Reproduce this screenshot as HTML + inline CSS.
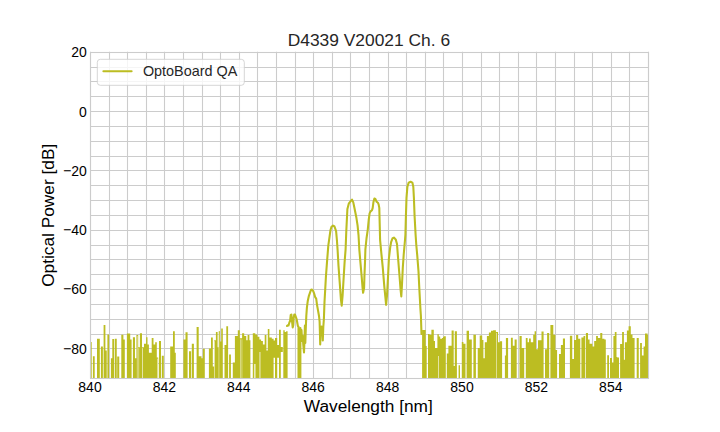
<!DOCTYPE html>
<html><head><meta charset="utf-8"><style>
html,body{margin:0;padding:0;background:#fff;width:720px;height:432px;overflow:hidden}
svg{display:block;font-family:"Liberation Sans",sans-serif}
</style></head><body>
<svg width="720" height="432" viewBox="0 0 720 432">
<rect width="720" height="432" fill="#fff"/>
<g stroke="#cccccc" stroke-width="1.1" shape-rendering="auto"><line x1="90.50" y1="51.84" x2="90.50" y2="378.00"/><line x1="109.50" y1="51.84" x2="109.50" y2="378.00"/><line x1="127.50" y1="51.84" x2="127.50" y2="378.00"/><line x1="146.50" y1="51.84" x2="146.50" y2="378.00"/><line x1="164.50" y1="51.84" x2="164.50" y2="378.00"/><line x1="183.50" y1="51.84" x2="183.50" y2="378.00"/><line x1="202.50" y1="51.84" x2="202.50" y2="378.00"/><line x1="220.50" y1="51.84" x2="220.50" y2="378.00"/><line x1="239.50" y1="51.84" x2="239.50" y2="378.00"/><line x1="257.50" y1="51.84" x2="257.50" y2="378.00"/><line x1="276.50" y1="51.84" x2="276.50" y2="378.00"/><line x1="295.50" y1="51.84" x2="295.50" y2="378.00"/><line x1="313.50" y1="51.84" x2="313.50" y2="378.00"/><line x1="332.50" y1="51.84" x2="332.50" y2="378.00"/><line x1="350.50" y1="51.84" x2="350.50" y2="378.00"/><line x1="369.50" y1="51.84" x2="369.50" y2="378.00"/><line x1="388.50" y1="51.84" x2="388.50" y2="378.00"/><line x1="406.50" y1="51.84" x2="406.50" y2="378.00"/><line x1="425.50" y1="51.84" x2="425.50" y2="378.00"/><line x1="443.50" y1="51.84" x2="443.50" y2="378.00"/><line x1="462.50" y1="51.84" x2="462.50" y2="378.00"/><line x1="481.50" y1="51.84" x2="481.50" y2="378.00"/><line x1="499.50" y1="51.84" x2="499.50" y2="378.00"/><line x1="518.50" y1="51.84" x2="518.50" y2="378.00"/><line x1="536.50" y1="51.84" x2="536.50" y2="378.00"/><line x1="555.50" y1="51.84" x2="555.50" y2="378.00"/><line x1="574.50" y1="51.84" x2="574.50" y2="378.00"/><line x1="592.50" y1="51.84" x2="592.50" y2="378.00"/><line x1="611.50" y1="51.84" x2="611.50" y2="378.00"/><line x1="629.50" y1="51.84" x2="629.50" y2="378.00"/><line x1="648.50" y1="51.84" x2="648.50" y2="378.00"/><line x1="90.00" y1="52.50" x2="648.00" y2="52.50"/><line x1="90.00" y1="67.50" x2="648.00" y2="67.50"/><line x1="90.00" y1="81.50" x2="648.00" y2="81.50"/><line x1="90.00" y1="96.50" x2="648.00" y2="96.50"/><line x1="90.00" y1="111.50" x2="648.00" y2="111.50"/><line x1="90.00" y1="126.50" x2="648.00" y2="126.50"/><line x1="90.00" y1="141.50" x2="648.00" y2="141.50"/><line x1="90.00" y1="156.50" x2="648.00" y2="156.50"/><line x1="90.00" y1="170.50" x2="648.00" y2="170.50"/><line x1="90.00" y1="185.50" x2="648.00" y2="185.50"/><line x1="90.00" y1="200.50" x2="648.00" y2="200.50"/><line x1="90.00" y1="215.50" x2="648.00" y2="215.50"/><line x1="90.00" y1="230.50" x2="648.00" y2="230.50"/><line x1="90.00" y1="245.50" x2="648.00" y2="245.50"/><line x1="90.00" y1="259.50" x2="648.00" y2="259.50"/><line x1="90.00" y1="274.50" x2="648.00" y2="274.50"/><line x1="90.00" y1="289.50" x2="648.00" y2="289.50"/><line x1="90.00" y1="304.50" x2="648.00" y2="304.50"/><line x1="90.00" y1="319.50" x2="648.00" y2="319.50"/><line x1="90.00" y1="334.50" x2="648.00" y2="334.50"/><line x1="90.00" y1="348.50" x2="648.00" y2="348.50"/><line x1="90.00" y1="363.50" x2="648.00" y2="363.50"/><line x1="90.00" y1="378.50" x2="648.00" y2="378.50"/></g>
<defs><clipPath id="c"><rect x="90.0" y="51.84" width="558.0" height="326.15999999999997"/></clipPath></defs>
<g clip-path="url(#c)"><path d="M90.90 380.00 L90.90 342.00 L91.70 342.00 L91.70 380.00 Z M92.90 380.00 L92.90 356.20 L94.70 356.20 L94.70 380.00 Z M97.00 380.00 L97.00 338.80 L99.80 338.80 L99.80 380.00 Z M100.90 380.00 L100.90 346.50 L102.90 346.50 L102.90 380.00 Z M103.60 380.00 L103.60 325.00 L105.40 325.00 L105.40 380.00 Z M105.40 380.00 L105.40 350.60 L106.75 350.60 L106.75 380.00 Z M107.40 380.00 L107.40 334.40 L109.10 334.40 L109.10 380.00 Z M110.90 380.00 L110.90 358.30 L112.30 358.30 L112.30 380.00 Z M112.30 380.00 L112.30 339.10 L114.10 339.10 L114.10 380.00 Z M114.80 380.00 L114.80 338.80 L116.75 338.80 L116.75 380.00 Z M117.20 380.00 L117.20 356.60 L119.25 356.60 L119.25 380.00 Z M121.30 380.00 L121.30 334.70 L123.40 334.70 L123.40 380.00 Z M123.40 380.00 L123.40 339.50 L124.80 339.50 L124.80 380.00 Z M126.90 380.00 L126.90 333.60 L130.20 333.60 L130.20 380.00 Z M130.20 380.00 L130.20 339.50 L131.60 339.50 L131.60 380.00 Z M132.90 380.00 L132.90 337.20 L135.00 337.20 L135.00 380.00 Z M135.00 380.00 L135.00 358.30 L136.40 358.30 L136.40 380.00 Z M136.40 380.00 L136.40 335.00 L138.20 335.00 L138.20 380.00 Z M138.20 380.00 L138.20 347.20 L139.90 347.20 L139.90 380.00 Z M139.90 380.00 L139.90 333.30 L142.00 333.30 L142.00 380.00 Z M142.00 380.00 L142.00 347.20 L144.00 347.20 L144.00 380.00 Z M144.00 380.00 L144.00 343.70 L146.10 343.70 L146.10 380.00 Z M146.10 380.00 L146.10 337.20 L147.50 337.20 L147.50 380.00 Z M147.50 380.00 L147.50 344.40 L148.90 344.40 L148.90 380.00 Z M148.90 380.00 L148.90 352.70 L151.70 352.70 L151.70 380.00 Z M151.70 380.00 L151.70 338.10 L153.50 338.10 L153.50 380.00 Z M153.50 380.00 L153.50 344.40 L155.20 344.40 L155.20 380.00 Z M155.20 380.00 L155.20 342.30 L156.80 342.30 L156.80 380.00 Z M156.80 380.00 L156.80 357.60 L158.20 357.60 L158.20 380.00 Z M159.00 380.00 L159.00 340.90 L161.00 340.90 L161.00 380.00 Z M161.80 380.00 L161.80 355.80 L163.80 355.80 L163.80 380.00 Z M170.20 380.00 L170.20 346.50 L173.00 346.50 L173.00 380.00 Z M173.00 380.00 L173.00 331.20 L174.80 331.20 L174.80 380.00 Z M174.80 380.00 L174.80 352.70 L175.80 352.70 L175.80 380.00 Z M183.40 380.00 L183.40 339.50 L185.50 339.50 L185.50 380.00 Z M185.50 380.00 L185.50 332.30 L187.60 332.30 L187.60 380.00 Z M189.00 380.00 L189.00 351.30 L191.10 351.30 L191.10 380.00 Z M191.80 380.00 L191.80 343.70 L193.90 343.70 L193.90 380.00 Z M196.60 380.00 L196.60 327.00 L198.70 327.00 L198.70 380.00 Z M198.70 380.00 L198.70 356.20 L201.50 356.20 L201.50 380.00 Z M201.50 380.00 L201.50 358.30 L202.90 358.30 L202.90 380.00 Z M202.90 380.00 L202.90 348.70 L204.80 348.70 L204.80 380.00 Z M208.90 380.00 L208.90 348.60 L211.00 348.60 L211.00 380.00 Z M211.00 380.00 L211.00 337.40 L212.80 337.40 L212.80 380.00 Z M212.80 380.00 L212.80 366.60 L214.20 366.60 L214.20 380.00 Z M214.20 380.00 L214.20 340.20 L215.90 340.20 L215.90 380.00 Z M215.90 380.00 L215.90 331.90 L217.60 331.90 L217.60 380.00 Z M217.60 380.00 L217.60 347.20 L218.70 347.20 L218.70 380.00 Z M218.70 380.00 L218.70 331.20 L220.00 331.20 L220.00 380.00 Z M220.00 380.00 L220.00 341.60 L221.20 341.60 L221.20 380.00 Z M221.20 380.00 L221.20 328.40 L222.80 328.40 L222.80 380.00 Z M224.50 380.00 L224.50 345.10 L226.30 345.10 L226.30 380.00 Z M226.30 380.00 L226.30 326.30 L228.10 326.30 L228.10 380.00 Z M229.10 380.00 L229.10 354.40 L230.90 354.40 L230.90 380.00 Z M232.80 380.00 L232.80 362.40 L234.90 362.40 L234.90 380.00 Z M234.90 380.00 L234.90 336.00 L237.80 336.00 L237.80 380.00 Z M237.80 380.00 L237.80 330.20 L239.80 330.20 L239.80 380.00 Z M239.80 380.00 L239.80 338.30 L242.10 338.30 L242.10 380.00 Z M242.10 380.00 L242.10 333.30 L244.20 333.30 L244.20 380.00 Z M244.20 380.00 L244.20 336.00 L246.25 336.00 L246.25 380.00 Z M246.25 380.00 L246.25 340.20 L247.60 340.20 L247.60 380.00 Z M247.60 380.00 L247.60 335.00 L249.40 335.00 L249.40 380.00 Z M249.40 380.00 L249.40 340.20 L250.40 340.20 L250.40 380.00 Z M252.80 380.00 L252.80 333.30 L255.30 333.30 L255.30 380.00 Z M255.30 380.00 L255.30 334.40 L257.40 334.40 L257.40 380.00 Z M257.40 380.00 L257.40 336.75 L259.40 336.75 L259.40 380.00 Z M259.40 380.00 L259.40 339.50 L261.10 339.50 L261.10 380.00 Z M261.10 380.00 L261.10 340.90 L262.90 340.90 L262.90 380.00 Z M262.90 380.00 L262.90 344.40 L264.70 344.40 L264.70 380.00 Z M264.70 380.00 L264.70 335.00 L266.40 335.00 L266.40 380.00 Z M266.40 380.00 L266.40 350.60 L267.80 350.60 L267.80 380.00 Z M267.80 380.00 L267.80 329.10 L269.40 329.10 L269.40 380.00 Z M269.40 380.00 L269.40 337.50 L271.80 337.50 L271.80 380.00 Z M271.80 380.00 L271.80 338.80 L273.60 338.80 L273.60 380.00 Z M273.60 357.80 L273.60 340.60 L275.00 340.60 L275.00 357.80 Z M275.00 380.00 L275.00 337.90 L277.20 337.90 L277.20 380.00 Z M277.20 357.80 L277.20 345.00 L279.00 345.00 L279.00 357.80 Z M279.00 380.00 L279.00 329.80 L280.80 329.80 L280.80 380.00 Z M280.80 352.00 L280.80 347.00 L282.80 347.00 L282.80 352.00 Z M283.30 380.00 L283.30 330.20 L284.70 330.20 L284.70 380.00 Z M284.70 380.00 L284.70 331.90 L286.10 331.90 L286.10 380.00 Z M286.10 380.00 L286.10 331.20 L287.60 331.20 L287.60 380.00 Z M422.10 380.00 L422.10 330.00 L425.70 330.00 L425.70 380.00 Z M425.70 380.00 L425.70 346.00 L426.70 346.00 L426.70 380.00 Z M428.00 380.00 L428.00 334.00 L429.50 334.00 L429.50 380.00 Z M429.50 380.00 L429.50 334.70 L431.40 334.70 L431.40 380.00 Z M431.40 380.00 L431.40 329.80 L433.80 329.80 L433.80 380.00 Z M433.80 380.00 L433.80 340.90 L435.00 340.90 L435.00 380.00 Z M435.00 380.00 L435.00 348.00 L437.40 348.00 L437.40 380.00 Z M437.40 380.00 L437.40 334.30 L438.80 334.30 L438.80 380.00 Z M438.80 380.00 L438.80 336.40 L440.20 336.40 L440.20 380.00 Z M440.20 380.00 L440.20 338.80 L442.00 338.80 L442.00 380.00 Z M442.00 380.00 L442.00 338.10 L443.00 338.10 L443.00 380.00 Z M443.00 380.00 L443.00 336.75 L444.00 336.75 L444.00 380.00 Z M444.00 380.00 L444.00 336.20 L445.80 336.20 L445.80 380.00 Z M446.80 380.00 L446.80 353.40 L448.40 353.40 L448.40 380.00 Z M448.40 380.00 L448.40 345.80 L451.60 345.80 L451.60 380.00 Z M451.60 380.00 L451.60 330.50 L453.70 330.50 L453.70 380.00 Z M453.70 380.00 L453.70 365.90 L454.80 365.90 L454.80 380.00 Z M454.80 380.00 L454.80 331.20 L456.90 331.20 L456.90 380.00 Z M458.60 380.00 L458.60 365.20 L460.00 365.20 L460.00 380.00 Z M461.80 380.00 L461.80 341.90 L463.40 341.90 L463.40 380.00 Z M463.40 380.00 L463.40 343.70 L465.50 343.70 L465.50 380.00 Z M466.60 380.00 L466.60 330.80 L469.00 330.80 L469.00 380.00 Z M469.00 380.00 L469.00 339.50 L471.80 339.50 L471.80 380.00 Z M473.40 380.00 L473.40 334.70 L475.90 334.70 L475.90 380.00 Z M477.75 380.00 L477.75 347.90 L479.70 347.90 L479.70 380.00 Z M479.70 380.00 L479.70 335.40 L482.20 335.40 L482.20 380.00 Z M482.20 380.00 L482.20 340.00 L483.40 340.00 L483.40 380.00 Z M483.40 380.00 L483.40 358.30 L484.80 358.30 L484.80 380.00 Z M484.80 380.00 L484.80 342.30 L486.90 342.30 L486.90 380.00 Z M486.90 380.00 L486.90 336.00 L488.90 336.00 L488.90 380.00 Z M488.90 380.00 L488.90 332.60 L491.00 332.60 L491.00 380.00 Z M491.00 380.00 L491.00 330.80 L493.10 330.80 L493.10 380.00 Z M493.10 380.00 L493.10 330.20 L495.90 330.20 L495.90 380.00 Z M495.90 380.00 L495.90 331.90 L498.00 331.90 L498.00 380.00 Z M498.00 380.00 L498.00 342.30 L500.00 342.30 L500.00 380.00 Z M500.00 380.00 L500.00 341.30 L502.10 341.30 L502.10 380.00 Z M504.90 380.00 L504.90 355.50 L505.90 355.50 L505.90 380.00 Z M505.90 380.00 L505.90 338.10 L508.10 338.10 L508.10 380.00 Z M510.90 380.00 L510.90 337.70 L512.80 337.70 L512.80 380.00 Z M512.80 380.00 L512.80 345.80 L514.60 345.80 L514.60 380.00 Z M514.60 380.00 L514.60 339.50 L516.70 339.50 L516.70 380.00 Z M519.50 380.00 L519.50 336.00 L521.70 336.00 L521.70 380.00 Z M521.70 380.00 L521.70 347.90 L524.20 347.90 L524.20 380.00 Z M525.80 380.00 L525.80 338.10 L527.60 338.10 L527.60 380.00 Z M527.60 380.00 L527.60 342.30 L529.00 342.30 L529.00 380.00 Z M529.00 380.00 L529.00 338.60 L530.80 338.60 L530.80 380.00 Z M530.80 380.00 L530.80 342.30 L533.20 342.30 L533.20 380.00 Z M533.20 380.00 L533.20 334.70 L534.60 334.70 L534.60 380.00 Z M534.60 380.00 L534.60 331.20 L536.00 331.20 L536.00 380.00 Z M536.00 380.00 L536.00 349.25 L538.00 349.25 L538.00 380.00 Z M538.00 380.00 L538.00 340.20 L541.50 340.20 L541.50 380.00 Z M541.50 380.00 L541.50 331.60 L543.60 331.60 L543.60 380.00 Z M545.00 380.00 L545.00 349.25 L547.10 349.25 L547.10 380.00 Z M547.10 380.00 L547.10 333.00 L549.20 333.00 L549.20 380.00 Z M550.40 380.00 L550.40 325.00 L553.30 325.00 L553.30 380.00 Z M553.30 380.00 L553.30 334.70 L555.40 334.70 L555.40 380.00 Z M555.40 380.00 L555.40 350.00 L557.10 350.00 L557.10 380.00 Z M559.00 380.00 L559.00 354.10 L560.90 354.10 L560.90 380.00 Z M560.90 380.00 L560.90 345.10 L562.90 345.10 L562.90 380.00 Z M562.90 380.00 L562.90 338.60 L565.00 338.60 L565.00 380.00 Z M569.90 380.00 L569.90 335.80 L572.25 335.80 L572.25 380.00 Z M572.25 380.00 L572.25 359.00 L574.00 359.00 L574.00 380.00 Z M574.00 380.00 L574.00 340.00 L576.10 340.00 L576.10 380.00 Z M576.10 380.00 L576.10 335.00 L578.20 335.00 L578.20 380.00 Z M578.20 380.00 L578.20 338.80 L580.30 338.80 L580.30 380.00 Z M581.40 380.00 L581.40 337.40 L583.50 337.40 L583.50 380.00 Z M583.50 380.00 L583.50 336.00 L585.20 336.00 L585.20 380.00 Z M585.90 380.00 L585.90 333.00 L588.00 333.00 L588.00 380.00 Z M588.00 380.00 L588.00 339.50 L589.60 339.50 L589.60 380.00 Z M589.60 380.00 L589.60 343.70 L592.40 343.70 L592.40 380.00 Z M592.40 380.00 L592.40 346.50 L594.20 346.50 L594.20 380.00 Z M594.20 380.00 L594.20 340.90 L596.10 340.90 L596.10 380.00 Z M596.10 380.00 L596.10 336.00 L597.90 336.00 L597.90 380.00 Z M597.90 380.00 L597.90 338.10 L600.25 338.10 L600.25 380.00 Z M600.25 380.00 L600.25 333.00 L602.30 333.00 L602.30 380.00 Z M602.30 380.00 L602.30 338.80 L604.40 338.80 L604.40 380.00 Z M604.40 380.00 L604.40 339.50 L605.80 339.50 L605.80 380.00 Z M607.20 380.00 L607.20 355.20 L609.00 355.20 L609.00 380.00 Z M610.00 380.00 L610.00 358.00 L612.00 358.00 L612.00 380.00 Z M612.00 380.00 L612.00 362.40 L613.40 362.40 L613.40 380.00 Z M613.40 380.00 L613.40 336.00 L614.80 336.00 L614.80 380.00 Z M614.80 380.00 L614.80 331.90 L616.50 331.90 L616.50 380.00 Z M616.50 380.00 L616.50 356.90 L617.30 356.90 L617.30 380.00 Z M617.30 380.00 L617.30 357.60 L619.00 357.60 L619.00 380.00 Z M620.10 380.00 L620.10 344.10 L622.10 344.10 L622.10 380.00 Z M622.10 380.00 L622.10 331.90 L623.90 331.90 L623.90 380.00 Z M623.90 380.00 L623.90 359.70 L624.90 359.70 L624.90 380.00 Z M624.90 380.00 L624.90 342.30 L626.90 342.30 L626.90 380.00 Z M626.90 380.00 L626.90 330.50 L628.60 330.50 L628.60 380.00 Z M628.60 380.00 L628.60 326.30 L630.80 326.30 L630.80 380.00 Z M630.80 380.00 L630.80 334.40 L632.50 334.40 L632.50 380.00 Z M632.50 380.00 L632.50 338.10 L634.60 338.10 L634.60 380.00 Z M636.70 380.00 L636.70 338.10 L638.75 338.10 L638.75 380.00 Z M640.10 380.00 L640.10 343.00 L641.90 343.00 L641.90 380.00 Z M641.90 380.00 L641.90 355.50 L643.60 355.50 L643.60 380.00 Z M643.60 380.00 L643.60 346.50 L645.00 346.50 L645.00 380.00 Z M645.00 380.00 L645.00 333.60 L647.50 333.60 L647.50 380.00 Z M647.50 380.00 L647.50 335.00 L649.00 335.00 L649.00 380.00 Z " fill="#bcbd22" stroke="none"/><rect x="132.3" y="379.0" width="0.70" height="1.0" fill="#fff" fill-opacity="0.85"/><rect x="136.9" y="336.0" width="0.50" height="44.0" fill="#fff" fill-opacity="0.85"/><rect x="138.6" y="348.2" width="0.50" height="31.80000000000001" fill="#fff" fill-opacity="0.85"/><rect x="142.2" y="348.2" width="0.70" height="31.80000000000001" fill="#fff" fill-opacity="0.85"/><rect x="157.4" y="358.6" width="0.60" height="21.399999999999977" fill="#fff" fill-opacity="0.85"/><rect x="214.0" y="341.2" width="0.60" height="38.80000000000001" fill="#fff" fill-opacity="0.85"/><rect x="218.7" y="332.2" width="0.50" height="47.80000000000001" fill="#fff" fill-opacity="0.85"/><rect x="240.2" y="339.3" width="0.50" height="40.69999999999999" fill="#fff" fill-opacity="0.85"/><rect x="241.7" y="339.3" width="0.50" height="40.69999999999999" fill="#fff" fill-opacity="0.85"/><rect x="254.2" y="364" width="1.30" height="16" fill="#fff" fill-opacity="0.85"/><rect x="259.5" y="352" width="0.90" height="28" fill="#fff" fill-opacity="0.85"/><rect x="438.1" y="356" width="0.70" height="24" fill="#fff" fill-opacity="0.85"/><rect x="496.0" y="332.9" width="0.60" height="47.10000000000002" fill="#fff" fill-opacity="0.85"/><path d="M287.00 326.00 L287.80 325.20 L288.50 325.50 L289.10 323.50 L289.60 321.90 L290.10 321.00 L290.70 315.10 L291.40 314.50 L292.00 321.00 L292.70 327.40 L293.30 325.00 L293.70 317.70 L294.30 314.50 L295.00 314.50 L295.90 317.10 L296.60 319.00 L297.20 322.20 L297.90 326.10 L298.50 326.80 L299.00 1000.00 L299.80 1000.00 L300.40 328.00 L300.90 341.00 L301.50 330.00 L302.10 341.00 L302.70 336.00 L303.30 345.00 L304.00 352.50 L304.50 340.00 L304.90 325.50 L305.30 343.00 L305.80 328.00 L306.30 316.00 L306.90 307.60 L307.80 300.70 L308.90 295.80 L310.10 292.30 L311.00 289.80 L312.00 289.60 L313.10 290.90 L314.20 293.70 L315.20 297.20 L316.20 298.60 L317.00 304.80 L318.00 310.40 L319.00 316.00 L319.60 321.50 L319.90 332.00 L320.20 344.50 L320.70 328.40 L321.50 326.50 L322.20 327.00 L322.80 340.50 L323.30 327.00 L323.90 318.70 L324.50 302.00 L325.20 289.60 L325.90 277.00 L327.00 262.20 L328.30 245.60 L329.60 236.40 L330.50 230.00 L331.50 226.80 L333.00 225.60 L334.50 226.50 L336.10 231.10 L336.90 240.00 L337.60 250.00 L338.50 265.90 L340.00 286.30 L340.90 299.30 L341.70 305.70 L342.60 295.60 L343.70 277.00 L344.60 262.20 L345.60 249.30 L346.30 231.00 L347.40 208.90 L348.90 203.30 L351.10 200.60 L352.00 199.60 L353.30 202.40 L354.80 209.80 L356.30 217.20 L357.60 225.60 L358.50 234.80 L359.30 249.30 L360.40 262.20 L361.70 277.00 L362.60 288.10 L363.10 292.80 L364.10 288.10 L364.40 277.00 L365.00 262.20 L365.40 249.30 L366.50 238.50 L367.80 229.30 L368.70 220.00 L369.60 213.40 L370.60 211.40 L372.00 210.30 L372.70 207.90 L373.40 202.30 L374.40 198.50 L375.50 199.20 L376.50 201.60 L377.90 202.70 L378.60 204.40 L379.30 207.90 L379.60 220.00 L380.10 240.00 L381.50 254.80 L382.80 267.80 L384.30 286.30 L385.60 299.30 L386.10 304.80 L387.00 295.60 L388.00 277.00 L388.90 258.50 L390.20 247.40 L391.10 242.20 L392.60 238.10 L393.90 237.60 L395.70 239.40 L397.00 244.00 L398.10 258.50 L399.60 277.00 L400.60 290.00 L401.30 296.50 L401.90 286.30 L402.80 267.80 L403.70 254.80 L405.00 240.00 L405.40 234.80 L405.90 216.30 L406.50 197.80 L407.40 186.70 L408.70 182.60 L410.60 181.70 L412.40 182.60 L413.30 186.70 L413.90 197.80 L414.60 216.30 L415.60 234.80 L416.30 245.00 L417.20 254.80 L418.50 271.50 L419.40 290.00 L420.40 308.50 L420.90 316.00 L421.30 328.00 L421.50 334.00" fill="none" stroke="#bcbd22" stroke-width="2.08" stroke-linejoin="round" stroke-linecap="round"/></g>
<rect x="90.5" y="52.5" width="558" height="326" fill="none" stroke="#cccccc" stroke-width="1.1"/>
<g font-size="14" fill="#000"><text transform="translate(90.00,391.7) scale(1,1.08)" text-anchor="middle">840</text><text transform="translate(164.40,391.7) scale(1,1.08)" text-anchor="middle">842</text><text transform="translate(238.80,391.7) scale(1,1.08)" text-anchor="middle">844</text><text transform="translate(313.20,391.7) scale(1,1.08)" text-anchor="middle">846</text><text transform="translate(387.60,391.7) scale(1,1.08)" text-anchor="middle">848</text><text transform="translate(462.00,391.7) scale(1,1.08)" text-anchor="middle">850</text><text transform="translate(536.40,391.7) scale(1,1.08)" text-anchor="middle">852</text><text transform="translate(610.80,391.7) scale(1,1.08)" text-anchor="middle">854</text><text transform="translate(86.9,57.24) scale(1,1.08)" text-anchor="end">20</text><text transform="translate(86.9,116.54) scale(1,1.08)" text-anchor="end">0</text><text transform="translate(86.9,175.84) scale(1,1.08)" text-anchor="end">&#8722;20</text><text transform="translate(86.9,235.15) scale(1,1.08)" text-anchor="end">&#8722;40</text><text transform="translate(86.9,294.45) scale(1,1.08)" text-anchor="end">&#8722;60</text><text transform="translate(86.9,353.75) scale(1,1.08)" text-anchor="end">&#8722;80</text></g>
<rect x="97.3" y="59.3" width="147" height="26" rx="3" fill="#fff" fill-opacity="0.8" stroke="#cccccc" stroke-opacity="0.8" stroke-width="1"/>
<line x1="103.4" y1="71.2" x2="131.6" y2="71.2" stroke="#bcbd22" stroke-width="2.08" stroke-linecap="round"/>
<text x="142.9" y="75.6" font-size="14.4" fill="#262626">OptoBoard QA</text>
<text x="368.9" y="46" font-size="17.4" fill="#262626" text-anchor="middle">D4339 V20021 Ch. 6</text>
<text x="368.3" y="411.9" font-size="17.3" fill="#000" text-anchor="middle">Wavelength [nm]</text>
<text transform="translate(53.5,215.3) rotate(-90)" font-size="17.3" fill="#000" text-anchor="middle">Optical Power [dB]</text>
</svg>
</body></html>
